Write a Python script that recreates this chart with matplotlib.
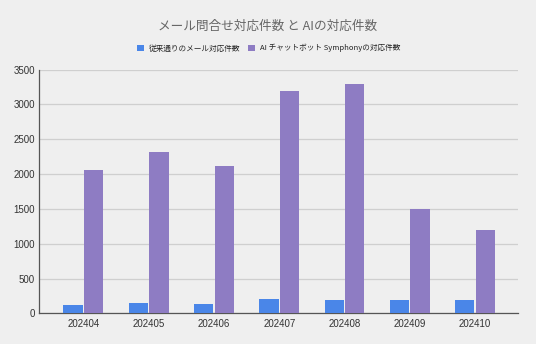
import matplotlib
matplotlib.use("Agg")
import matplotlib.pyplot as plt
from matplotlib.patches import Patch
import numpy as np

plt.rcParams['font.family'] = ['Noto Sans CJK JP', 'DejaVu Sans']

months = ['202404', '202405', '202406', '202407', '202408', '202409', '202410']
mail_counts = [115, 152, 134, 205, 187, 191, 191]
ai_counts = [2060, 2320, 2115, 3190, 3300, 1505, 1200]
series_names = ['従来通りのメール対応件数', 'AI チャットボット Symphonyの対応件数']
title = 'メール問合せ対応件数 と AIの対応件数'
yticks = [0, 500, 1000, 1500, 2000, 2500, 3000, 3500]

bg = '#efefef'
c_mail = '#4a86e8'
c_ai = '#8e7cc3'

fig = plt.figure(figsize=(5.36, 3.44), dpi=100, facecolor=bg)
ax = fig.add_axes([0.0733, 0.0892, 0.8931, 0.7082], facecolor=bg)

x = np.arange(len(months))
w = 0.296
off = 0.158
ax.bar(x - off, mail_counts, width=w, color=c_mail, zorder=3)
ax.bar(x + off, ai_counts, width=w, color=c_ai, zorder=3)

ax.set_xlim(-0.674, 6.657)
ax.set_ylim(0, 3500)
ax.set_yticks(yticks)
ax.set_xticks(x)
ax.set_xticklabels(months)
tick_font = ['Liberation Sans', 'DejaVu Sans']
ax.set_yticklabels([str(v) for v in yticks], family=tick_font)
for lab in ax.get_xticklabels():
    lab.set_family(tick_font)
ax.tick_params(axis='both', length=0, labelsize=7, colors='#333333')
ax.tick_params(axis='y', pad=3)
ax.tick_params(axis='x', pad=4)
ax.grid(axis='y', color='#cfcfcf', linewidth=0.9, zorder=0)
for s in ['top', 'right']:
    ax.spines[s].set_visible(False)
ax.spines['left'].set_color('#555555')
ax.spines['bottom'].set_color('#555555')
ax.spines['left'].set_linewidth(0.9)
ax.spines['bottom'].set_linewidth(0.9)

fig.text(0.5, 0.925, title, ha='center', va='center', fontsize=9.1, color='#666666')

handles = [Patch(facecolor=c_mail), Patch(facecolor=c_ai)]
leg = fig.legend(handles, series_names, loc='center', bbox_to_anchor=(0.502, 0.86),
                 ncol=2, frameon=False, fontsize=5.5, handlelength=0.92, handleheight=0.92,
                 handletextpad=0.65, columnspacing=1.0)
for t in leg.get_texts():
    t.set_color('#222222')

fig.savefig('out.png', dpi=100, facecolor=bg)
